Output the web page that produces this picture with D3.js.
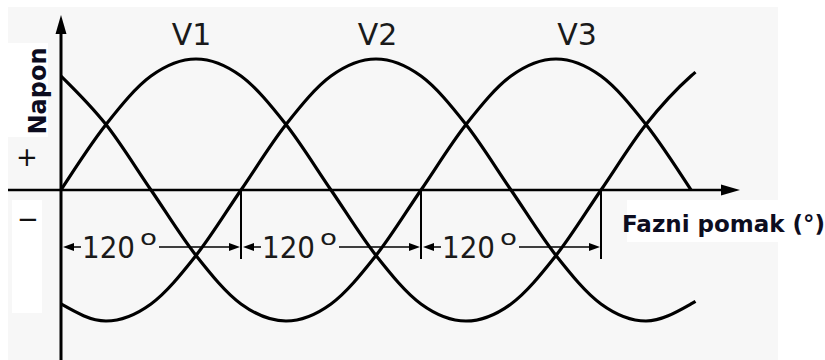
<!DOCTYPE html>
<html>
<head>
<meta charset="utf-8">
<script src="https://cdn.jsdelivr.net/npm/d3@7"></script>
<style>
  body { margin: 0; background: #fff; }
  svg { display: block; }
</style>
</head>
<body>
<div id="chart"></div>
<script>
// angles (degrees) and voltage of each phase
const angles = [0, 30, 60, 90, 120, 150, 180, 210, 240, 270, 300, 330, 360, 390, 420, 423];
const v1 = [0, 0.5, 0.87, 1, 0.87, 0.5, 0, -0.5, -0.87, -1, -0.87, -0.5, 0, 0.5, 0.87, 0.9];
const v2 = [-0.87, -1, -0.87, -0.5, 0, 0.5, 0.87, 1, 0.87, 0.5, 0, -0.5, -0.87, -1, -0.87, -0.85];
const v3 = [0.87, 0.5, 0, -0.5, -0.87, -1, -0.87, -0.5, 0, 0.5, 0.87, 1, 0.87, 0.5, 0, null];

const phaseNames = ["V1", "V2", "V3"];
const phaseLabelAt = [87, 211, 344];

// 120 degree spacing dimensions
const dimStart = [0, 120, 240];
const dimEnd = [120, 240, 360];
const dimText = "120";

const width = 825, height = 360;

const svg = d3.select("#chart")
    .append("svg")
    .attr("width", width)
    .attr("height", height);

// background (light grey picture with white patches behind labels)
svg.append("rect").attr("width", width).attr("height", height).attr("fill", "#fff");
svg.append("rect").attr("x", 8).attr("y", 7).attr("width", 770).attr("height", 353).attr("fill", "#f7f7f7");
svg.append("rect").attr("x", 8).attr("y", 43).attr("width", 40).attr("height", 94).attr("fill", "#fff");
svg.append("rect").attr("x", 12).attr("y", 200).attr("width", 30).attr("height", 113).attr("fill", "#fff");
svg.append("rect").attr("x", 627).attr("y", 200).attr("width", 198).attr("height", 42).attr("fill", "#fff");

const x = d3.scaleLinear().domain([0, 420]).range([61, 691]);
const y = d3.scaleLinear().domain([-1, 1]).range([321, 59]);

const x0 = x(0), y0 = y(0);

// axes
svg.append("line")
    .attr("x1", x0).attr("x2", x0)
    .attr("y1", 30).attr("y2", 360)
    .attr("stroke", "#000").attr("stroke-width", 3);
svg.append("path")
    .attr("d", `M${x0},15 L${x0 - 5.5},34 L${x0 + 5.5},34 Z`)
    .attr("fill", "#000");

svg.append("line")
    .attr("x1", 8).attr("x2", 725)
    .attr("y1", y0).attr("y2", y0)
    .attr("stroke", "#000").attr("stroke-width", 2.5);
svg.append("path")
    .attr("d", `M740,${y0} L721,${y0 - 5.5} L721,${y0 + 5.5} Z`)
    .attr("fill", "#000");

// phase curves
const series = [v1, v2, v3];
const line = d3.line()
    .defined(d => d[1] != null)
    .x(d => x(d[0]))
    .y(d => y(d[1]))
    .curve(d3.curveMonotoneX);

svg.selectAll("path.phase")
    .data(series)
    .join("path")
    .attr("class", "phase")
    .attr("fill", "none")
    .attr("stroke", "#000")
    .attr("stroke-width", 3.2)
    .attr("d", vals => line(angles.map((a, i) => [a, vals[i]])));

svg.selectAll("text.phase-name")
    .data(phaseNames)
    .join("text")
    .attr("class", "phase-name")
    .attr("x", (d, i) => x(phaseLabelAt[i]))
    .attr("y", 45)
    .attr("text-anchor", "middle")
    .attr("font-family", "DejaVu Sans")
    .attr("font-size", 30)
    .attr("fill", "#1a1a1a")
    .text(d => d);

// 120 degree dimension lines
const dimY = 247;
svg.selectAll("line.marker")
    .data(dimEnd)
    .join("line")
    .attr("class", "marker")
    .attr("x1", d => x(d)).attr("x2", d => x(d))
    .attr("y1", y0).attr("y2", 259)
    .attr("stroke", "#000").attr("stroke-width", 2);

const dims = svg.selectAll("g.dim")
    .data(dimStart.map((s, i) => ({ s: s, e: dimEnd[i] })))
    .join("g")
    .attr("class", "dim");

dims.append("path")
    .attr("d", d => {
        const a = x(d.s) + 2;
        return `M${a},${dimY} L${a + 11},${dimY - 4} L${a + 11},${dimY + 4} Z`;
    })
    .attr("fill", "#000");
dims.append("line")
    .attr("x1", d => x(d.s) + 10).attr("x2", d => x(d.s) + 20)
    .attr("y1", dimY).attr("y2", dimY)
    .attr("stroke", "#000").attr("stroke-width", 1.5);

dims.append("text")
    .attr("x", d => x(d.s) + 21)
    .attr("y", 258)
    .attr("font-family", "DejaVu Sans")
    .attr("font-size", 31)
    .attr("textLength", 53)
    .attr("lengthAdjust", "spacingAndGlyphs")
    .attr("fill", "#1a1a1a")
    .text(dimText);
dims.append("text")
    .attr("x", d => x(d.s) + 79)
    .attr("y", 245)
    .attr("font-family", "DejaVu Sans")
    .attr("font-size", 22)
    .attr("textLength", 17)
    .attr("lengthAdjust", "spacingAndGlyphs")
    .attr("fill", "#1a1a1a")
    .text("o");

dims.append("line")
    .attr("x1", d => x(d.s) + 98).attr("x2", d => x(d.e) - 8)
    .attr("y1", dimY).attr("y2", dimY)
    .attr("stroke", "#000").attr("stroke-width", 1.5);
dims.append("path")
    .attr("d", d => {
        const b = x(d.e) - 1;
        return `M${b},${dimY} L${b - 11},${dimY - 4} L${b - 11},${dimY + 4} Z`;
    })
    .attr("fill", "#000");

// axis titles and signs
svg.append("text")
    .attr("transform", `translate(46,91) rotate(-90)`)
    .attr("text-anchor", "middle")
    .attr("font-family", "DejaVu Sans")
    .attr("font-weight", "bold")
    .attr("font-size", 24)
    .attr("fill", "#0d0d1f")
    .text("Napon");

svg.append("text")
    .attr("x", 622)
    .attr("y", 232)
    .attr("font-family", "DejaVu Sans")
    .attr("font-weight", "bold")
    .attr("font-size", 23)
    .attr("fill", "#0d0d1f")
    .text("Fazni pomak (°)");

svg.append("text")
    .attr("x", 27).attr("y", 166)
    .attr("text-anchor", "middle")
    .attr("font-family", "DejaVu Sans")
    .attr("font-size", 26)
    .attr("fill", "#111")
    .text("+");
svg.append("text")
    .attr("x", 28).attr("y", 228)
    .attr("text-anchor", "middle")
    .attr("font-family", "DejaVu Sans")
    .attr("font-size", 26)
    .attr("fill", "#111")
    .text("−");
</script>
</body>
</html>
